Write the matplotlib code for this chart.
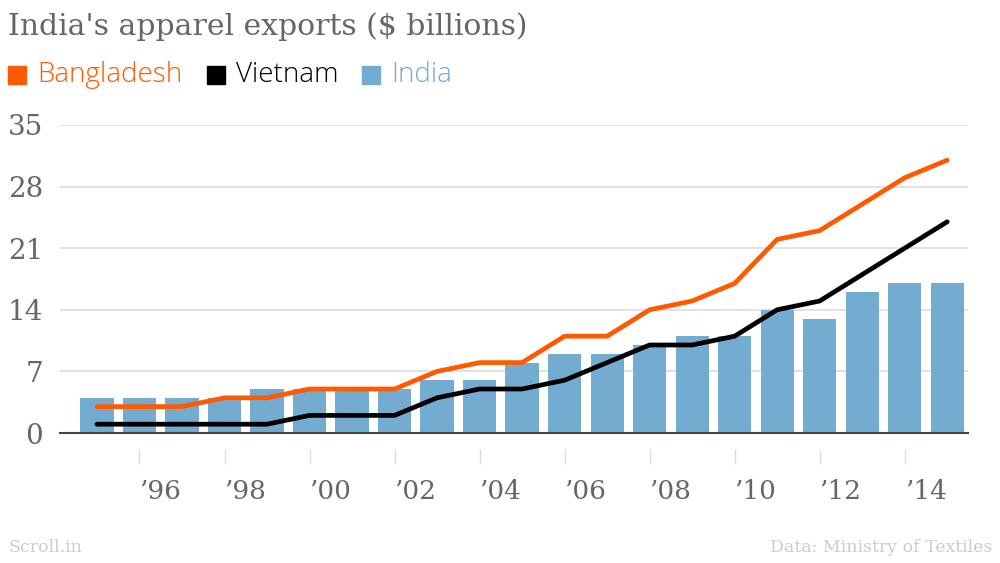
import matplotlib.pyplot as plt
from matplotlib.patches import Rectangle

# Data
years = list(range(1995, 2016))
india = [4, 4, 4, 4, 5, 5, 5, 5, 6, 6, 8, 9, 9, 10, 11, 11, 14, 13, 16, 17, 17]
bangladesh = [3, 3, 3, 4, 4, 5, 5, 5, 7, 8, 8, 11, 11, 14, 15, 17, 22, 23, 26, 29, 31]
vietnam = [1, 1, 1, 1, 1, 2, 2, 2, 4, 5, 5, 6, 8, 10, 10, 11, 14, 15, 18, 21, 24]
tick_years = list(range(1996, 2015, 2))
tick_labels = ["\u2019%02d" % (y % 100) for y in tick_years]
y_ticks = [0, 7, 14, 21, 28, 35]

C_BANG = '#ff5a00'
C_VIET = '#000000'
C_IND = '#74abd1'
GRAY = '#666666'

fig = plt.figure(figsize=(10, 5.63), dpi=100)
ax = fig.add_axes([0.06, 0.2309, 0.908, 0.5471])

ax.bar(years, india, width=0.78, color=C_IND, zorder=2)
ax.plot(years, bangladesh, color=C_BANG, lw=3.4, solid_capstyle='round',
        solid_joinstyle='round', zorder=3)
ax.plot(years, vietnam, color=C_VIET, lw=3.4, solid_capstyle='round',
        solid_joinstyle='round', zorder=3)

ax.set_xlim(1994.13, 2015.49)
ax.set_ylim(0, 35)

ax.set_yticks(y_ticks)
ax.set_yticklabels([str(v) for v in y_ticks], family='DejaVu Serif', fontsize=20, color=GRAY)
ax.tick_params(axis='y', length=0, pad=12)
for v in y_ticks[1:]:
    ax.axhline(v, color='#dddddd', lw=1.2, zorder=1)
ax.axhline(0, color='#444444', lw=1.5, zorder=4, clip_on=False)

for s in ['top', 'right', 'left']:
    ax.spines[s].set_visible(False)
ax.spines['bottom'].set_position(('outward', 11.5))
ax.spines['bottom'].set_color('none')

ax.set_xticks(tick_years)
ax.set_xticklabels(tick_labels, family='DejaVu Serif', fontsize=19, color=GRAY, ha='left')
ax.tick_params(axis='x', length=10.8, width=1, color='#dddddd', pad=10.5)

# Title
fig.text(0.008, 0.953, "India's apparel exports ($ billions)", family='DejaVu Serif',
         fontsize=21.5, color=GRAY, va='center', ha='left')

# Legend
legend_items = [('Bangladesh', C_BANG, C_BANG), ('Vietnam', C_VIET, '#000000'), ('India', C_IND, C_IND)]
legend_x = [0.008, 0.207, 0.362]
for (name, sq, tc), lx in zip(legend_items, legend_x):
    fig.patches.append(Rectangle((lx, 0.851), 0.0175, 0.031, transform=fig.transFigure,
                                 color=sq, figure=fig))
    fig.text(lx + 0.029, 0.866, name, family='Open Sans', fontweight='light',
             fontsize=20, color=tc, va='center', ha='left')

# Footer
fig.text(0.008, 0.02, 'Scroll.in', family='DejaVu Serif', fontsize=12.5, color='#cccccc')
fig.text(0.992, 0.02, 'Data: Ministry of Textiles', family='DejaVu Serif', fontsize=12.5,
         color='#cccccc', ha='right')

fig.savefig('out.png', dpi=100)
